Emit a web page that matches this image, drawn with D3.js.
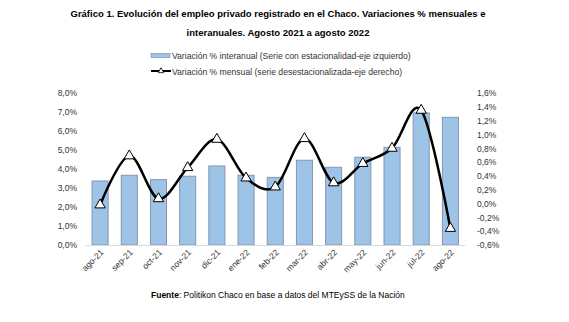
<!DOCTYPE html>
<html><head><meta charset="utf-8">
<script src="https://cdn.jsdelivr.net/npm/d3@7"></script>
<style>body{margin:0;background:#fff}svg{display:block;font-family:"Liberation Sans",Arial,sans-serif}</style>
</head><body><svg id="c" width="569" height="322"></svg>
<script>
const categories = ["ago-21","sep-21","oct-21","nov-21","dic-21","ene-22","feb-22","mar-22","abr-22","may-22","jun-22","jul-22","ago-22"];
const interanual = [3.37,3.67,3.44,3.62,4.16,3.67,3.56,4.46,4.09,4.62,5.14,6.95,6.72];
const mensual = [-0.02,0.69,0.07,0.52,0.93,0.37,0.24,0.94,0.30,0.58,0.80,1.35,-0.36];
const leftTicks = [0,1,2,3,4,5,6,7,8];
const rightTicks = [-0.6,-0.4,-0.2,0,0.2,0.4,0.6,0.8,1.0,1.2,1.4,1.6];
const titleLines = ["Gráfico 1. Evolución del empleo privado registrado en el Chaco. Variaciones % mensuales e","interanuales. Agosto 2021 a agosto 2022"];
const legendLabels = ["Variación % interanual (Serie con estacionalidad-eje izquierdo)","Variación % mensual (serie desestacionalizada-eje derecho)"];

const svg = d3.select("#c");
const fmt = (v,d) => v.toFixed(d).replace(".", ",") + "%";

const x = d3.scaleBand().domain(categories).range([85.5, 465]).paddingInner(0.45).paddingOuter(0.225);
const yL = d3.scaleLinear().domain([0, 8]).range([245, 93]);
const yR = d3.scaleLinear().domain([-0.6, 1.6]).range([245, 93]);

// title
svg.append("g").selectAll("text").data(titleLines).join("text")
  .attr("x", 278).attr("y", (d,i) => 17 + i*19)
  .attr("text-anchor","middle").attr("font-weight","bold").attr("font-size", 9.5).attr("fill","#000").text(d=>d);

// legend
const lg = svg.append("g");
lg.append("rect").attr("x",151).attr("y",53.5).attr("width",19).attr("height",4)
  .attr("fill","#9dc3e6").attr("stroke","#8496b0").attr("stroke-width",0.7);
lg.append("line").attr("x1",151).attr("x2",171).attr("y1",71).attr("y2",71).attr("stroke","#000").attr("stroke-width",2);
lg.append("path").attr("d", d3.symbol(d3.symbolTriangle, 14)()).attr("transform","translate(161,71)")
  .attr("fill","#fff").attr("stroke","#000").attr("stroke-width",0.8);
lg.selectAll("text").data(legendLabels).join("text")
  .attr("x",172).attr("y",(d,i)=>58.5+i*16).attr("font-size",8.6).attr("fill","#333").text(d=>d);

// bars
svg.append("g").selectAll("rect").data(interanual).join("rect")
  .attr("x",(d,i)=>x(categories[i])).attr("width",x.bandwidth())
  .attr("y",d=>yL(d)).attr("height",d=>yL(0)-yL(d))
  .attr("fill","#9dc3e6").attr("stroke","#8496b0").attr("stroke-width",1);

// baseline
svg.append("line").attr("x1",85.5).attr("x2",465).attr("y1",245.5).attr("y2",245.5).attr("stroke","#d9d9d9").attr("stroke-width",1);

// left axis
const axL = svg.append("g").attr("transform","translate(80,0)")
  .call(d3.axisLeft(yL).tickValues(leftTicks).tickSize(0).tickPadding(3).tickFormat(d=>fmt(d,1)));
axL.select(".domain").remove();
axL.selectAll("text").attr("font-size",8.5).attr("fill","#333").attr("font-family","Liberation Sans, Arial, sans-serif");

// right axis
const axR = svg.append("g").attr("transform","translate(474,0)")
  .call(d3.axisRight(yR).tickValues(rightTicks).tickSize(0).tickPadding(3).tickFormat(d=>fmt(d,1)));
axR.select(".domain").remove();
axR.selectAll("text").attr("font-size",8.5).attr("fill","#333").attr("font-family","Liberation Sans, Arial, sans-serif");

// x axis labels
svg.append("g").selectAll("text").data(categories).join("text")
  .attr("transform",d=>`translate(${x(d)+x.bandwidth()/2+4},${253}) rotate(-45)`)
  .attr("text-anchor","end").attr("font-size",8.5).attr("fill","#333").text(d=>d);

// line
const cx = (d,i)=>x(categories[i])+x.bandwidth()/2;
const line = d3.line().x(cx).y(d=>yR(d)).curve(d3.curveCardinal.tension(0));
svg.append("path").datum(mensual).attr("d",line).attr("fill","none").attr("stroke","#000").attr("stroke-width",2.5);
svg.append("g").selectAll("path").data(mensual).join("path")
  .attr("d", d3.symbol(d3.symbolTriangle, 46)())
  .attr("transform",(d,i)=>`translate(${cx(d,i)},${yR(d)})`)
  .attr("fill","#fff").attr("stroke","#000").attr("stroke-width",1);

// source
const src = svg.append("text").attr("x",151).attr("y",298).attr("font-size",8.5).attr("fill","#000");
src.append("tspan").attr("font-weight","bold").text("Fuente");
src.append("tspan").text(": Politikon Chaco en base a datos del MTEySS de la Nación");
</script></body></html>
